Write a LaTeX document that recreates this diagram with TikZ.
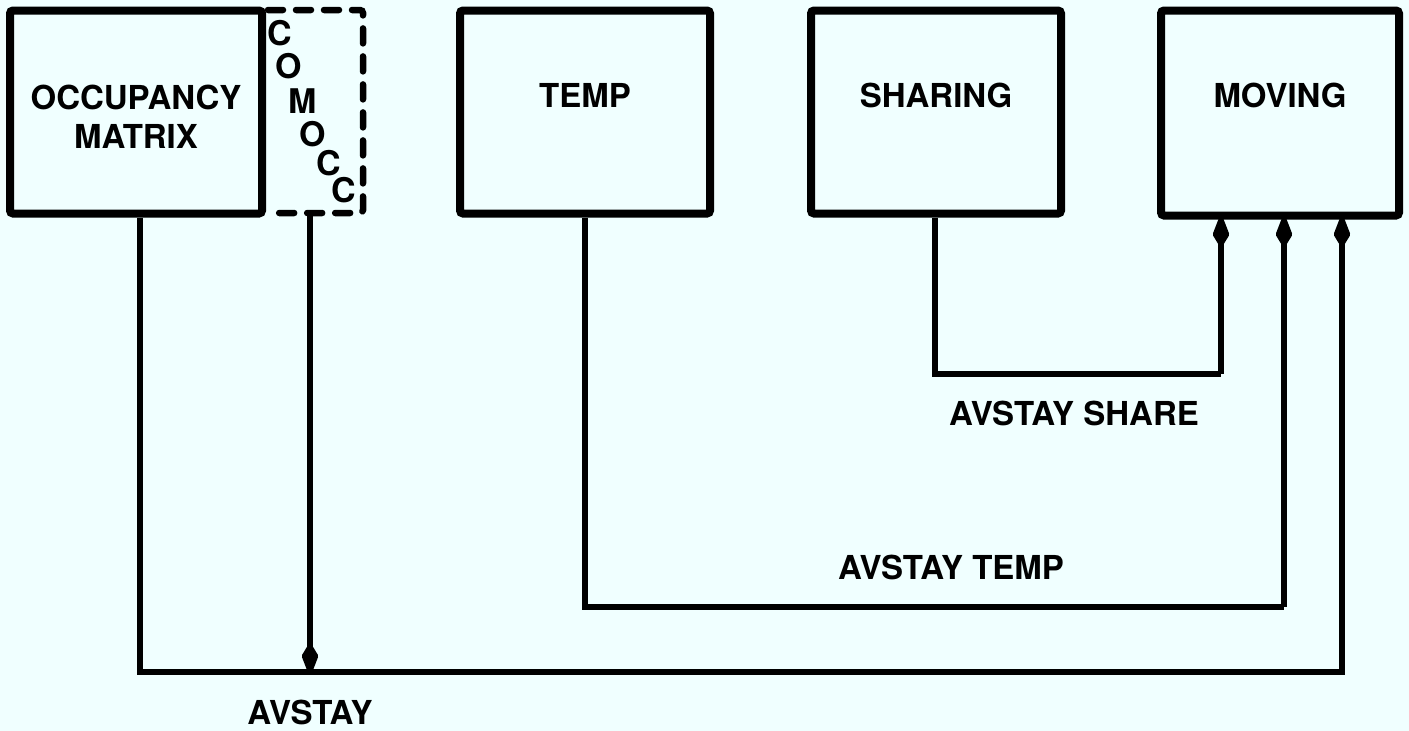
\documentclass[tikz,border=0pt]{standalone}
\usepackage{fontspec}
\setmainfont{TeX Gyre Heros}
\usetikzlibrary{arrows.meta}
\definecolor{bg}{HTML}{F0FFFF}
\begin{document}
\begin{tikzpicture}[x=1pt,y=-1pt,
  blk/.style={draw,line width=8pt,rounded corners=3pt,inner sep=0pt},
  dbox/.style={draw,line width=6.5pt,dash pattern=on 15pt off 13pt,line cap=round,rounded corners=3pt},
  conn/.style={line width=5.5pt},
  tip/.style={-{Kite[length=36pt,width=17pt,inset=14pt,round]}},
  lbl/.style={font=\fontsize{33}{40}\selectfont\bfseries,align=center,inner sep=0pt},
  letter/.style={font=\fontsize{34}{40}\selectfont\bfseries,inner sep=0pt}]
\fill[bg] (0,0) rectangle (1409,731);
\useasboundingbox (0,0) rectangle (1409,731);
% boxes
\node[blk,minimum width=252pt,minimum height=203pt] (occ) at (136,112) {};
\node[lbl] at (136,117) {OCCUPANCY\\[-1pt]MATRIX};
\draw[dbox] (268,10) -- (363,10) -- (363,213) -- (268,213);
\node (temp) at (585,112) [blk,minimum width=250pt,minimum height=203pt] {};
\node[lbl] at (585,95) {TEMP};
\node (sharing) at (936,112) [blk,minimum width=250pt,minimum height=203pt] {};
\node[lbl] at (936,95) {SHARING};
\node (moving) at (1280,113) [blk,minimum width=238pt,minimum height=205pt] {};
\node[lbl] at (1280,95) {MOVING};
% COMOCC letters
\node[letter] (c1) at (280,33) {C};
\node[letter] (o1) at (289,66) {O};
\node[letter] (m1) at (303,101) {M};
\node[letter] (o2) at (313,134) {O};
\node[letter] (c2) at (329,163) {C};
\node[letter] (c3) at (344,190) {C};
% coordinates
\coordinate (j) at (310,672);
\coordinate (occB) at (140,672);
\coordinate (movC) at (1342,672);
\coordinate (comT) at (310,213);
\coordinate (tempB) at (585,607);
\coordinate (tempC) at (1284,607);
\coordinate (shB) at (935,374);
\coordinate (shC) at (1221,374);
% connectors
\draw[conn] (occ.south -| occB) -- (occB) -- (movC) -- (movC |- moving.south);
\draw[conn,tip] (movC) -- ([yshift=2pt]movC |- moving.south);
\draw[conn,tip] (comT) -- ([yshift=-1pt]j);
\draw[conn] (temp.south) -- (tempB) -- (tempC);
\draw[conn,tip] (tempC) -- ([yshift=2pt]tempC |- moving.south);
\draw[conn] (sharing.south -| shB) -- (shB) -- (shC);
\draw[conn,tip] (shC) -- ([yshift=2pt]shC |- moving.south);
% labels
\node[lbl] at (1074,413) {AVSTAY SHARE};
\node[lbl] at (951,567) {AVSTAY TEMP};
\node[lbl] at (310,712) {AVSTAY};
\end{tikzpicture}
\end{document}
